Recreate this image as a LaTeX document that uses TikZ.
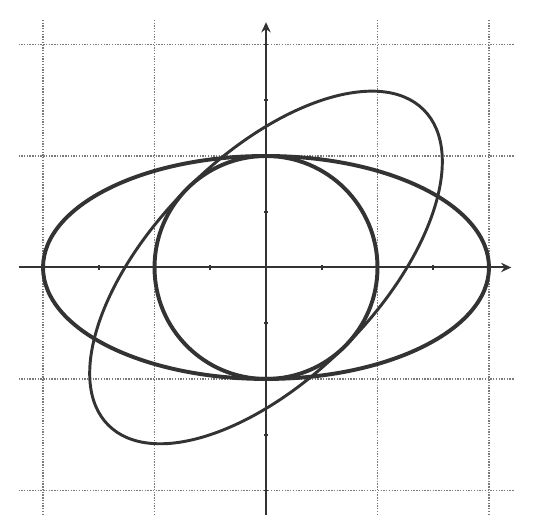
\documentclass[tikz,border=0pt]{standalone}
\usetikzlibrary{arrows.meta}
\definecolor{ink}{HTML}{333333}
\definecolor{gridgray}{HTML}{7A7A7A}
\tikzset{
  gridline/.style={gridgray, line width=0.45pt, dash pattern=on 0.35pt off 0.35pt},
  axisline/.style={ink, line width=0.5pt, -{Stealth[length=2.6pt,width=2.4pt]}},
  tickmark/.style={ink, line width=0.45pt},
  thickcurve/.style={ink, line width=1.0pt},
  thincurve/.style={ink, line width=0.75pt}
}
\begin{document}
\begin{tikzpicture}
\useasboundingbox (-2.386,-2.363) rectangle (2.395,2.399);
% grid
\foreach \v in {-2,-1,1,2} {
  \draw[gridline] (\v,-2.22) -- (\v,2.22);
  \draw[gridline] (-2.22,\v) -- (2.22,\v);
}
% axes
\coordinate (xs) at (-2.22,0);
\coordinate (xe) at (2.2,0);
\coordinate (ys) at (0,-2.22);
\coordinate (ye) at (0,2.2);
\draw[axisline] (xs) -- (xe);
\draw[axisline] (ys) -- (ye);
% ticks
\foreach \t in {-2,-1.5,-1,-0.5,0.5,1,1.5,2} {
  \draw[tickmark] (\t,-0.02) -- (\t,0.02);
  \draw[tickmark] (-0.02,\t) -- (0.02,\t);
}
% curves
\coordinate (O) at (0,0);
\draw[thickcurve] (O) circle[radius=1];
\draw[thickcurve] (O) ellipse[x radius=2, y radius=1];
\draw[thincurve, rotate=45] (O) ellipse[x radius=2, y radius=1];
\end{tikzpicture}
\end{document}
